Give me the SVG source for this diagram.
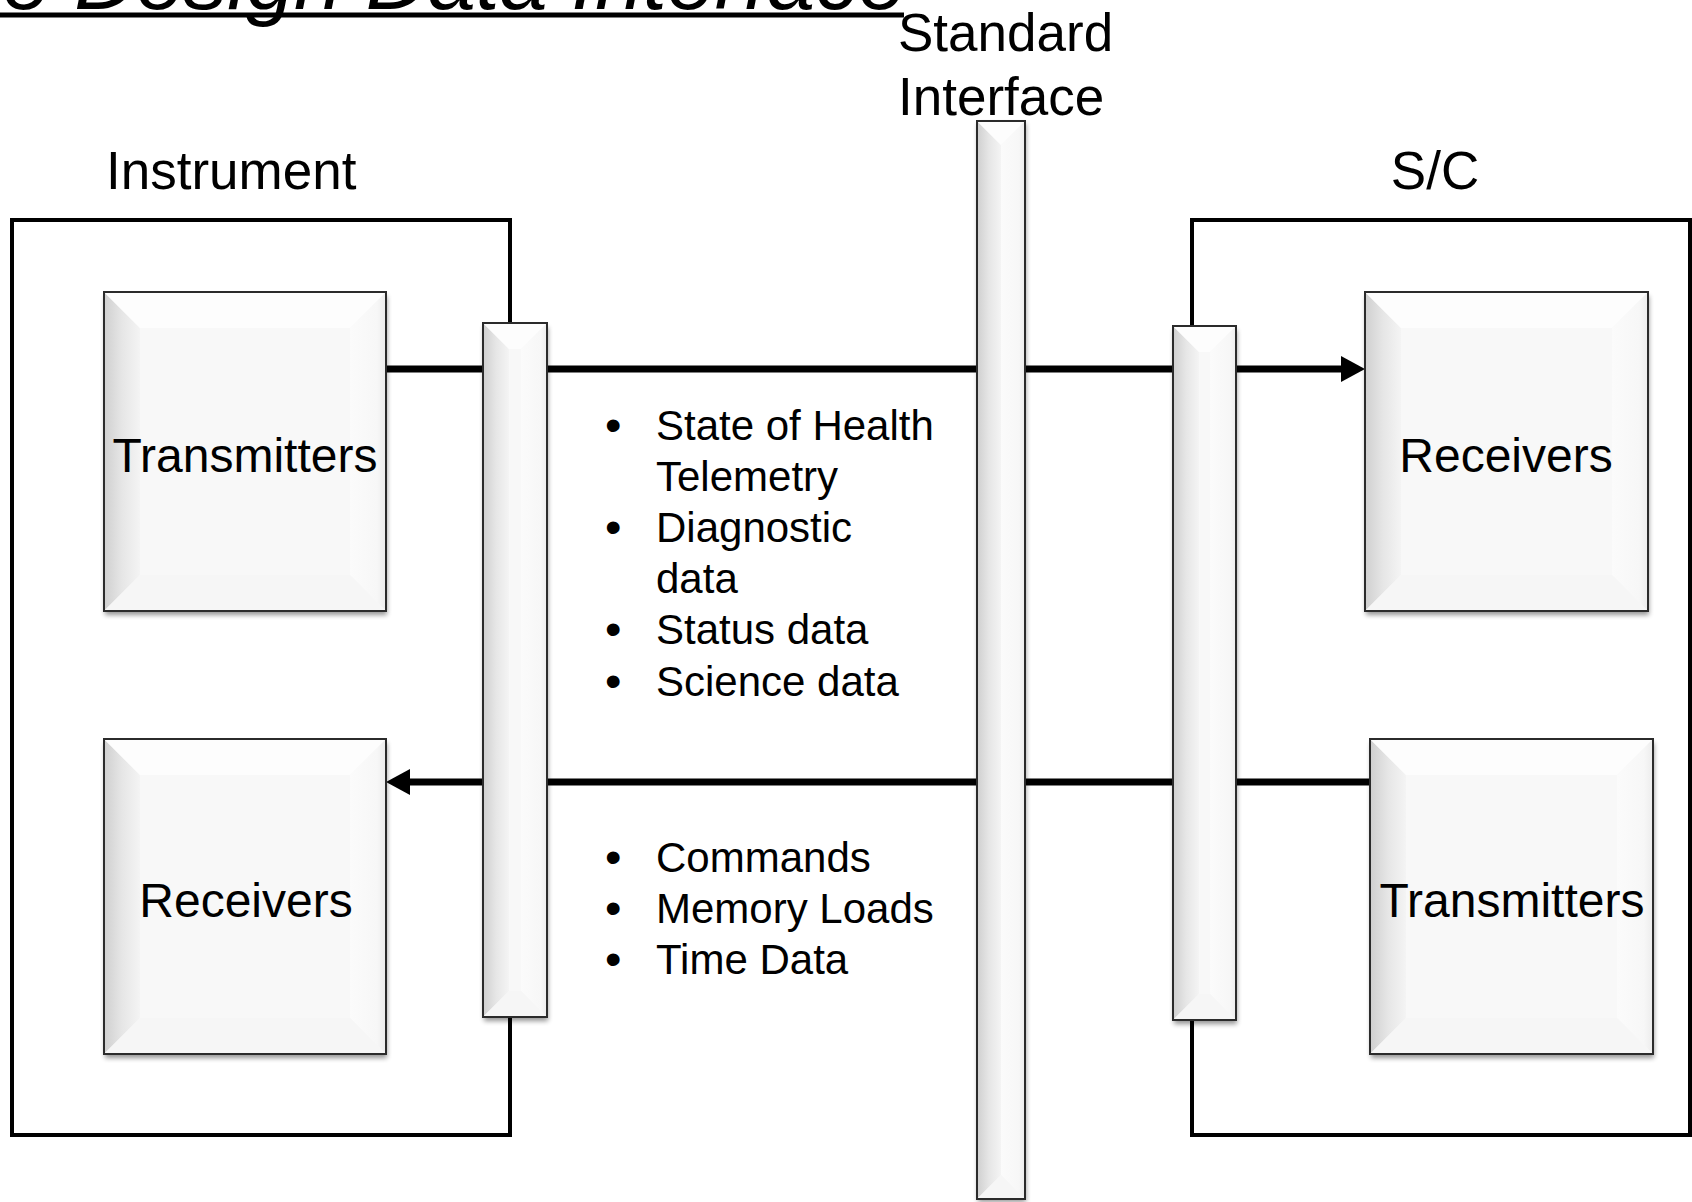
<svg xmlns="http://www.w3.org/2000/svg" width="1692" height="1202" viewBox="0 0 1692 1202">
  <defs>
    <style>
      text { font-family: "Liberation Sans", Arial, sans-serif; fill: #000; }
      .title { font-size: 86px; font-style: italic; }
      .lbl { font-size: 53px; }
      .node-text { font-size: 48px; text-anchor: middle; }
      .bul { font-size: 42px; }
      .dot { font-size: 47px; }
      .frame { fill: none; stroke: #000; stroke-width: 4; }
      .wire { fill: none; stroke: #000; stroke-width: 7; }
      .shadow { fill: #000; opacity: 0.42; filter: url(#soft); }
      .face { fill: #f8f8f8; }
      .bl { fill: url(#gLeft); }
      .bt { fill: #fdfdfd; }
      .br { fill: url(#gRight); }
      .bb { fill: #f6f6f6; }
      .edge { fill: none; stroke: #2b2b2b; stroke-width: 2; }
    </style>
    <linearGradient id="gLeft" x1="0" y1="0" x2="1" y2="0">
      <stop offset="0" stop-color="#cfcfcf"/>
      <stop offset="0.5" stop-color="#e6e6e6"/>
      <stop offset="1" stop-color="#f4f4f4"/>
    </linearGradient>
    <linearGradient id="gRight" x1="0" y1="0" x2="1" y2="0">
      <stop offset="0" stop-color="#fbfbfb"/>
      <stop offset="0.75" stop-color="#f7f7f7"/>
      <stop offset="1" stop-color="#ececec"/>
    </linearGradient>
    <filter id="soft" x="-10%" y="-10%" width="120%" height="120%">
      <feGaussianBlur stdDeviation="2.5"/>
    </filter>
    <marker id="arrow" viewBox="0 0 24 26" refX="8" refY="13" markerWidth="24" markerHeight="26" markerUnits="userSpaceOnUse" orient="auto">
      <path d="M0,0 L24,13 L0,26 Z" fill="#000"/>
    </marker>
  </defs>

  <rect width="1692" height="1202" fill="#fff"/>

  <!-- heading, partly above the top edge -->
  <g id="heading">
    <text class="title" x="906" y="9" text-anchor="end">e Design Data Interface</text>
    <line x1="0" y1="15" x2="904" y2="15" stroke="#000" stroke-width="5"/>
  </g>

  <!-- enclosure frames -->
  <g id="instrument">
    <path class="frame" d="M510,323 V220 H12 V1135 H510 V1017"/>
    <text class="lbl" x="106" y="189">Instrument</text>
  </g>
  <g id="spacecraft">
    <path class="frame" d="M1192,326 V220 H1690 V1135 H1192 V1020"/>
    <text class="lbl" x="1435" y="189" text-anchor="middle">S/C</text>
  </g>

  <!-- data paths -->
  <g id="connectors">
    <line class="wire" x1="386" y1="369" x2="1349" y2="369" marker-end="url(#arrow)"/>
    <line class="wire" x1="1370" y1="782" x2="402" y2="782" marker-end="url(#arrow)"/>
  </g>

  <!-- standard interface bar -->
  <g id="standard-interface">
    <text class="lbl" x="898" y="51">Standard</text>
    <text class="lbl" x="898" y="115">Interface</text>
    <rect class="shadow" x="978" y="124" width="48" height="1078"/>
    <rect class="face" x="977" y="121" width="48" height="1078"/>
    <polygon class="bl" points="977,121 1001,145 1001,1175 977,1199"/>
    <polygon class="bt" points="977,121 1025,121 1001,145"/>
    <polygon class="br" points="1025,121 1025,1199 1001,1175 1001,145"/>
    <polygon class="bb" points="977,1199 1025,1199 1001,1175"/>
    <rect class="edge" x="977" y="121" width="48" height="1078"/>
  </g>

  <!-- instrument side connector bar -->
  <g id="instrument-port">
    <rect class="shadow" x="484" y="327" width="64" height="694"/>
    <rect class="face" x="483" y="323" width="64" height="694"/>
    <polygon class="bl" points="483,323 509,349 509,991 483,1017"/>
    <polygon class="bt" points="483,323 547,323 521,349 509,349"/>
    <polygon class="br" points="547,323 547,1017 521,991 521,349"/>
    <polygon class="bb" points="483,1017 547,1017 521,991 509,991"/>
    <rect class="edge" x="483" y="323" width="64" height="694"/>
  </g>

  <!-- spacecraft side connector bar -->
  <g id="spacecraft-port">
    <rect class="shadow" x="1174" y="330" width="63" height="694"/>
    <rect class="face" x="1173" y="326" width="63" height="694"/>
    <polygon class="bl" points="1173,326 1199,352 1199,994 1173,1020"/>
    <polygon class="bt" points="1173,326 1236,326 1210,352 1199,352"/>
    <polygon class="br" points="1236,326 1236,1020 1210,994 1210,352"/>
    <polygon class="bb" points="1173,1020 1236,1020 1210,994 1199,994"/>
    <rect class="edge" x="1173" y="326" width="63" height="694"/>
  </g>

  <!-- instrument transmitters -->
  <g id="inst-transmitters">
    <rect class="shadow" x="105" y="296" width="282" height="319"/>
    <rect class="face" x="104" y="292" width="282" height="319"/>
    <polygon class="bl" points="104,292 140,328 140,575 104,611"/>
    <polygon class="bt" points="104,292 386,292 350,328 140,328"/>
    <polygon class="br" points="386,292 386,611 350,575 350,328"/>
    <polygon class="bb" points="104,611 386,611 350,575 140,575"/>
    <rect class="edge" x="104" y="292" width="282" height="319"/>
    <text class="node-text" x="245" y="472">Transmitters</text>
  </g>

  <!-- instrument receivers -->
  <g id="inst-receivers">
    <rect class="shadow" x="105" y="743" width="282" height="315"/>
    <rect class="face" x="104" y="739" width="282" height="315"/>
    <polygon class="bl" points="104,739 140,775 140,1018 104,1054"/>
    <polygon class="bt" points="104,739 386,739 350,775 140,775"/>
    <polygon class="br" points="386,739 386,1054 350,1018 350,775"/>
    <polygon class="bb" points="104,1054 386,1054 350,1018 140,1018"/>
    <rect class="edge" x="104" y="739" width="282" height="315"/>
    <text class="node-text" x="246" y="917">Receivers</text>
  </g>

  <!-- spacecraft receivers -->
  <g id="sc-receivers">
    <rect class="shadow" x="1366" y="296" width="283" height="319"/>
    <rect class="face" x="1365" y="292" width="283" height="319"/>
    <polygon class="bl" points="1365,292 1401,328 1401,575 1365,611"/>
    <polygon class="bt" points="1365,292 1648,292 1612,328 1401,328"/>
    <polygon class="br" points="1648,292 1648,611 1612,575 1612,328"/>
    <polygon class="bb" points="1365,611 1648,611 1612,575 1401,575"/>
    <rect class="edge" x="1365" y="292" width="283" height="319"/>
    <text class="node-text" x="1506" y="472">Receivers</text>
  </g>

  <!-- spacecraft transmitters -->
  <g id="sc-transmitters">
    <rect class="shadow" x="1371" y="743" width="283" height="315"/>
    <rect class="face" x="1370" y="739" width="283" height="315"/>
    <polygon class="bl" points="1370,739 1406,775 1406,1018 1370,1054"/>
    <polygon class="bt" points="1370,739 1653,739 1617,775 1406,775"/>
    <polygon class="br" points="1653,739 1653,1054 1617,1018 1617,775"/>
    <polygon class="bb" points="1370,1054 1653,1054 1617,1018 1406,1018"/>
    <rect class="edge" x="1370" y="739" width="283" height="315"/>
    <text class="node-text" x="1512" y="917">Transmitters</text>
  </g>

  <!-- telemetry flowing to the spacecraft -->
  <g id="downlink-items">
    <text class="dot" x="605" y="441">•</text>
    <text class="bul" x="656" y="440">State of Health</text>
    <text class="bul" x="656" y="491">Telemetry</text>
    <text class="dot" x="605" y="543">•</text>
    <text class="bul" x="656" y="542">Diagnostic</text>
    <text class="bul" x="656" y="593">data</text>
    <text class="dot" x="605" y="645">•</text>
    <text class="bul" x="656" y="644">Status data</text>
    <text class="dot" x="605" y="697">•</text>
    <text class="bul" x="656" y="696">Science data</text>
  </g>

  <!-- commands flowing to the instrument -->
  <g id="uplink-items">
    <text class="dot" x="605" y="873">•</text>
    <text class="bul" x="656" y="872">Commands</text>
    <text class="dot" x="605" y="924">•</text>
    <text class="bul" x="656" y="923">Memory Loads</text>
    <text class="dot" x="605" y="975">•</text>
    <text class="bul" x="656" y="974">Time Data</text>
  </g>
</svg>
